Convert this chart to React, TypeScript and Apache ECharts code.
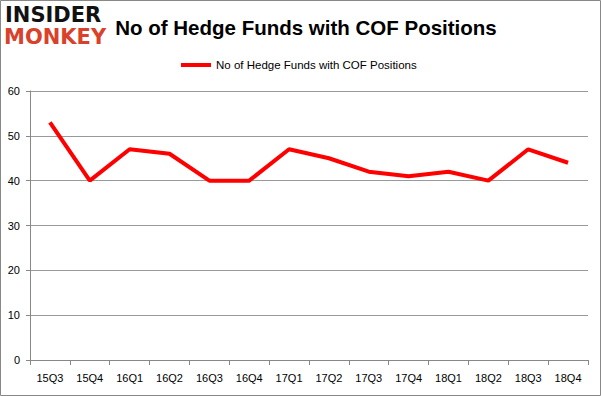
import React, { useEffect, useRef } from "react";
import * as echarts from "echarts";

const categories = ["15Q3", "15Q4", "16Q1", "16Q2", "16Q3", "16Q4", "17Q1", "17Q2", "17Q3", "17Q4", "18Q1", "18Q2", "18Q3", "18Q4"];
const hedgeFunds = [53, 40, 47, 46, 40, 40, 47, 45, 42, 41, 42, 40, 47, 44];
const seriesName = "No of Hedge Funds with COF Positions";
const titleText = "No of Hedge Funds with COF Positions";

export default function App() {
  const ref = useRef<HTMLDivElement>(null);
  useEffect(() => {
    if (!ref.current) return;
    const chart = echarts.init(ref.current, null, { renderer: "svg" });
    chart.setOption({
      animation: false,
      backgroundColor: "#ffffff",
      title: {
        text: titleText,
        left: 301,
        top: 12,
        textAlign: "center",
        textStyle: { fontFamily: "Liberation Sans", fontWeight: "bold", fontSize: 20.5, color: "#000" },
      },
      legend: {
        data: [seriesName],
        top: 54,
        left: 176,
        itemWidth: 30,
        itemHeight: 4,
        itemGap: 6,
        icon: "rect",
        textStyle: { fontFamily: "Liberation Sans", fontSize: 11.5, color: "#000" },
      },
      grid: { left: 30, right: 13, top: 91, bottom: 36, containLabel: false },
      xAxis: {
        type: "category",
        data: categories,
        boundaryGap: true,
        axisLine: { lineStyle: { color: "#888", width: 1 } },
        axisTick: { show: true, length: 5, lineStyle: { color: "#888" }, alignWithLabel: false },
        axisLabel: { fontFamily: "Liberation Sans", fontSize: 11, color: "#000", margin: 12 },
        splitLine: { show: false },
      },
      yAxis: {
        type: "value",
        min: 0,
        max: 60,
        interval: 10,
        axisLine: { show: true, lineStyle: { color: "#888", width: 1 } },
        axisTick: { show: true, length: 4, lineStyle: { color: "#888" } },
        axisLabel: { fontFamily: "Liberation Sans", fontSize: 11, color: "#000", margin: 10 },
        splitLine: { show: true, lineStyle: { color: "#999", width: 1 } },
      },
      series: [
        {
          name: seriesName,
          type: "line",
          data: hedgeFunds,
          symbol: "none",
          lineStyle: { color: "#ff0000", width: 4 },
          itemStyle: { color: "#ff0000" },
        },
      ],
      graphic: [
        {
          type: "rect",
          shape: { x: 0.5, y: 0.5, width: 600, height: 395 },
          style: { fill: "none", stroke: "#888", lineWidth: 1 },
          silent: true,
        },
        {
          type: "text",
          left: 5,
          top: 4,
          style: { text: "INSIDER", fontFamily: "DejaVu Sans", fontWeight: "bold", fontSize: 21, fill: "#111", letterSpacing: 1 },
        },
        {
          type: "text",
          left: 4,
          top: 26,
          style: { text: "MONKEY", fontFamily: "DejaVu Sans", fontWeight: "bold", fontSize: 21, fill: "#d9412b", letterSpacing: 0 },
        },
      ],
    });
    return () => chart.dispose();
  }, []);
  return <div ref={ref} style={{ position: "fixed", left: 0, top: 0, width: 601, height: 396 }} />;
}
